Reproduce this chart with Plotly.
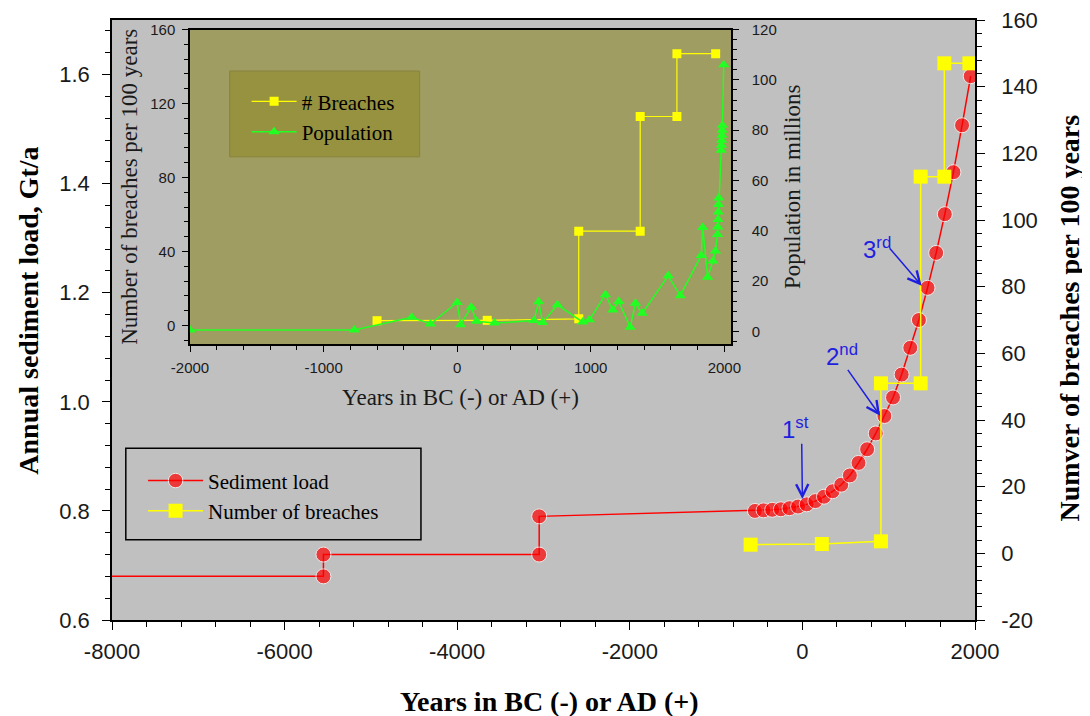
import plotly.graph_objects as go

# ---------------- data ----------------
sed_years = [-8000, -5550, -5550, -3050, -3050,
             -550, -450, -350, -250, -150, -50, 50, 150, 250, 350, 450, 550, 650,
             750, 850, 950, 1050, 1150, 1250, 1350, 1450, 1550, 1650, 1750, 1850, 1950]
sed_load = [0.68, 0.68, 0.72, 0.72, 0.79,
            0.800, 0.801, 0.802, 0.803, 0.805, 0.808, 0.812, 0.818, 0.826, 0.836, 0.848, 0.865, 0.888,
            0.913, 0.942, 0.974, 1.008, 1.050, 1.099, 1.150, 1.209, 1.273, 1.344, 1.421, 1.507, 1.597]

breach_years = [-600, 225, 910, 910, 1370, 1370, 1645, 1645, 1935]
breach_counts = [2.6, 2.8, 3.6, 51, 51, 113, 113, 147, 147]

pop_years = [-2000, -770, -340, -200, 0, 25, 105, 145, 280, 575, 610, 640, 750, 940, 990,
             1110, 1165, 1210, 1295, 1335, 1385, 1580, 1670, 1827, 1838, 1875, 1915, 1933,
             1949, 1951, 1953, 1955, 1957, 1959, 1976, 1978, 1980, 1982, 1984, 1986, 1995]
pop_millions = [0.6, 0.6, 5.6, 3.0, 11.5, 2.7, 9.6, 4.0, 3.3, 4.3, 11.8, 3.5, 10.6, 3.7, 4.6,
                14.6, 8.5, 11.9, 1.7, 11.2, 7.2, 22.1, 14.2, 30.2, 41.3, 21.5, 28.0, 32.0,
                38.5, 41.5, 44.5, 47.5, 50.5, 53.0, 72.0, 74.0, 76.0, 78.0, 80.0, 82.0, 106.0]

main_x_ticks = [-8000, -6000, -4000, -2000, 0, 2000]
main_y2_ticks = [-20, 0, 20, 40, 60, 80, 100, 120, 140, 160]
inset_x_ticks = [-2000, -1000, 0, 1000, 2000]

# ordinal annotations: (label, text x, text y, arrow tail x, tail y, tip x, tip y) on right axis
ordinals = [("1<sup>st</sup>", -80, 37.5, -8, 33.3, 0, 16.3),
            ("2<sup>nd</sup>", 460, 59.5, 514, 55.5, 900, 41.3),
            ("3<sup>rd</sup>", 870, 91.5, 996, 92.0, 1382, 80.3)]

# ---------------- styling ----------------
SERIF = "Liberation Serif"
SANS = "Liberation Sans"
BLUE = "#1f1fe0"
RED = "#ff0000"
YEL = "#ffff00"
GRN = "#22ff22"
INK = "#1a1a1a"


def lbl(v):
    return str(v).replace("\u2212", "-")


fig = go.Figure()

fig.add_trace(go.Scatter(
    x=sed_years, y=sed_load, mode="lines+markers", name="Sediment load",
    line=dict(color=RED, width=1.5),
    marker=dict(color=RED, size=[0] + [15] * (len(sed_years) - 1), symbol="circle"),
    xaxis="x", yaxis="y", legend="legend"))

fig.add_trace(go.Scatter(
    x=breach_years, y=breach_counts, mode="lines+markers", name="Number of breaches",
    line=dict(color=YEL, width=1.5),
    marker=dict(color=YEL, size=14, symbol="square"),
    xaxis="x", yaxis="y2", legend="legend"))

fig.add_trace(go.Scatter(
    x=breach_years, y=breach_counts, mode="lines+markers", name="# Breaches",
    line=dict(color=YEL, width=1.2),
    marker=dict(color=YEL, size=9, symbol="square"),
    xaxis="x2", yaxis="y3", legend="legend2"))

fig.add_trace(go.Scatter(
    x=pop_years, y=pop_millions, mode="lines+markers", name="Population",
    line=dict(color=GRN, width=1.5),
    marker=dict(color=GRN, size=10, symbol="triangle-up"),
    xaxis="x2", yaxis="y4", legend="legend2"))

tick_common = dict(ticks="outside", tickcolor="black", tickwidth=1.3, showgrid=False,
                   zeroline=False, showline=True, linecolor="black", linewidth=1.5, automargin=False,
                   ticklabeloverflow="allow")

# page body has an 8px default margin, so the plot area is offset to land at the target spot
fig.update_layout(
    width=1090, height=716,
    margin=dict(l=104, r=123, t=12, b=104),
    paper_bgcolor="white", plot_bgcolor="#c0c0c0",
    xaxis=dict(domain=[0, 1], range=[-8000, 2000], tickvals=main_x_ticks,
               ticktext=[lbl(v) for v in main_x_ticks], ticklen=8, ticklabelstandoff=3,
               minor=dict(dtick=400, tick0=0, ticks="outside", ticklen=5, tickcolor="black", tickwidth=1.3),
               mirror=True, anchor="y",
               tickfont=dict(family=SANS, size=22, color=INK),
               **tick_common),
    yaxis=dict(domain=[0, 1], range=[0.6, 1.7], tick0=0.6, dtick=0.2, tickformat=".1f", ticklen=8,
               ticklabelstandoff=8,
               minor=dict(dtick=0.04, tick0=0.6, ticks="outside", ticklen=5, tickcolor="black", tickwidth=1.3),
               anchor="x",
               tickfont=dict(family=SANS, size=22, color=INK),
               **tick_common),
    yaxis2=dict(overlaying="y", side="right", anchor="x", range=[-20, 160], tickvals=main_y2_ticks,
                ticktext=[lbl(v) for v in main_y2_ticks], ticklen=8, ticklabelstandoff=12,
                minor=dict(dtick=4, tick0=0, ticks="outside", ticklen=5, tickcolor="black", tickwidth=1.3),
                tickfont=dict(family=SANS, size=22, color=INK),
                **tick_common),
    xaxis2=dict(domain=[0.0904, 0.7173], anchor="y3", range=[-2000, 2050], tickvals=inset_x_ticks,
                ticktext=[lbl(v) for v in inset_x_ticks], ticklen=6, ticklabelstandoff=3,
                minor=dict(dtick=200, tick0=0, ticks="outside", ticklen=4, tickcolor="black", tickwidth=1),
                mirror=True,
                tickfont=dict(family=SANS, size=15, color=INK),
                title=dict(text="Years in BC (-) or AD (+)", font=dict(family=SERIF, size=23, color=INK), standoff=14),
                **tick_common),
    yaxis3=dict(domain=[0.460, 0.984], anchor="x2", range=[-10, 160], tick0=0, dtick=40, ticklen=6,
                ticklabelstandoff=4,
                minor=dict(dtick=8, tick0=0, ticks="outside", ticklen=4, tickcolor="black", tickwidth=1),
                tickfont=dict(family=SANS, size=15, color=INK),
                title=dict(text="Number of breaches per 100 years", font=dict(family=SERIF, size=23, color=INK),
                           standoff=6),
                **tick_common),
    yaxis4=dict(overlaying="y3", side="right", anchor="x2", range=[-5, 120], tick0=0, dtick=20, ticklen=6,
                ticklabelstandoff=10,
                minor=dict(dtick=4, tick0=0, ticks="outside", ticklen=4, tickcolor="black", tickwidth=1),
                tickfont=dict(family=SANS, size=15, color=INK),
                title=dict(text="Population in millions", font=dict(family=SERIF, size=23, color=INK), standoff=8),
                **tick_common),
    legend=dict(x=0.036, y=0.266, xanchor="left", yanchor="top", bgcolor="rgba(0,0,0,0)",
                borderwidth=0, itemwidth=55, tracegroupgap=0,
                font=dict(family=SERIF, size=21, color="black")),
    legend2=dict(x=0.156, y=0.898, xanchor="left", yanchor="top", bgcolor="rgba(0,0,0,0)",
                 borderwidth=0, itemwidth=45, tracegroupgap=0,
                 font=dict(family=SERIF, size=21, color="black")),
    shapes=[
        # inset plot background
        dict(type="rect", xref="x2", yref="y3", x0=-2000, x1=2050, y0=-10, y1=160,
             fillcolor="#a09d62", line=dict(width=0), layer="below"),
        # inset legend box
        dict(type="rect", xref="x2", yref="y3", x0=-1703, x1=-281, y0=91.2, y1=137.6,
             fillcolor="#97923f", line=dict(color="#88843c", width=1), layer="below"),
        # main legend box
        dict(type="rect", xref="paper", yref="paper", x0=0.016, x1=0.358, y0=0.1336, y1=0.2864,
             fillcolor="rgba(0,0,0,0)", line=dict(color="black", width=1.5), layer="above"),
    ],
)

annos = [
    dict(x=0.507, y=-0.136, xref="paper", yref="paper", text="<b>Years in BC (-) or AD (+)</b>",
         showarrow=False, xanchor="center", yanchor="middle",
         font=dict(family=SERIF, size=28, color="black")),
    dict(x=-0.097, y=0.516, xref="paper", yref="paper", text="<b>Annual sediment load, Gt/a</b>",
         textangle=-90, showarrow=False, xanchor="center", yanchor="middle",
         font=dict(family=SERIF, size=28, color="black")),
    dict(x=1.109, y=0.5025, xref="paper", yref="paper", text="<b>Numver of breaches per 100 years</b>",
         textangle=-90, showarrow=False, xanchor="center", yanchor="middle",
         font=dict(family=SERIF, size=28, color="black")),
]
for label, tx, ty, axx, ayy, hx, hy in ordinals:
    annos.append(dict(x=hx, y=hy, xref="x", yref="y2", ax=axx, ay=ayy, axref="x", ayref="y2",
                      text="", showarrow=True, arrowhead=5, arrowsize=1.6, arrowwidth=1.5,
                      arrowcolor=BLUE))
    annos.append(dict(x=tx, y=ty, xref="x", yref="y2", text=label, showarrow=False,
                      font=dict(family=SANS, size=24, color=BLUE)))
fig.update_layout(annotations=annos)

fig.write_html("out.html")
